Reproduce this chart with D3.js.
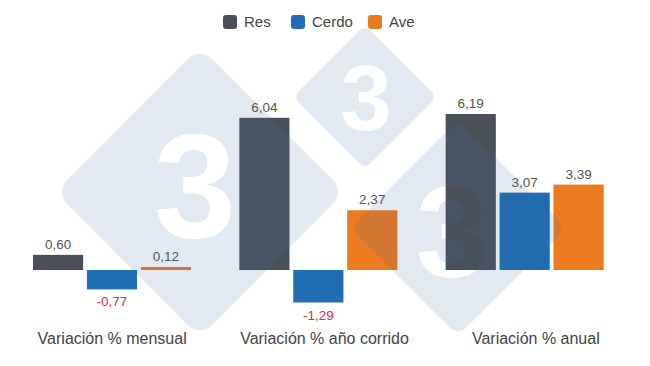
<!DOCTYPE html>
<html>
<head>
<meta charset="utf-8">
<script src="https://cdn.jsdelivr.net/npm/d3@7"></script>
<style>
  body { margin: 0; background: #fff; }
  text { font-family: "Liberation Sans", Arial, sans-serif; }
</style>
</head>
<body>
<div id="chart"></div>
<script>
// chart data
var categories = ["Variación % mensual", "Variación % año corrido", "Variación % anual"];
var seriesNames = ["Res", "Cerdo", "Ave"];
var resValues = [0.60, 6.04, 6.19];
var cerdoValues = [-0.77, -1.29, 3.07];
var aveValues = [0.12, 2.37, 3.39];
var colors = ["#4a5059", "#1f6db3", "#ec7a1f"];

var svgWidth = 650;
var svgHeight = 366;

var svg = d3.select("#chart")
    .append("svg")
    .attr("width", svgWidth)
    .attr("height", svgHeight);

// build rows from the arrays
var seriesValues = [resValues, cerdoValues, aveValues];
var rows = [];
categories.forEach(function(cat, i) {
    seriesNames.forEach(function(s, j) {
        rows.push({ cat: cat, series: s, value: seriesValues[j][i], color: colors[j] });
    });
});

// scales
var x0 = d3.scaleBand()
    .domain(categories)
    .range([9, 628]);

var x1 = d3.scaleBand()
    .domain(seriesNames)
    .range([24, 182])
    .paddingInner(0.07);

var y = d3.scaleLinear()
    .domain([-1.5, 6.5])
    .range([307.8, 106.2]);

var fmt = function(v) { return d3.format(".2f")(v).replace(".", ",").replace("−", "-"); };

// bars
var barGroup = svg.append("g");
barGroup.selectAll("rect")
    .data(rows)
    .enter()
    .append("rect")
    .attr("x", d => x0(d.cat) + x1(d.series))
    .attr("y", d => y(Math.max(0, d.value)))
    .attr("width", x1.bandwidth())
    .attr("height", d => Math.abs(y(d.value) - y(0)))
    .attr("fill", d => d.color);

// value labels
svg.append("g").selectAll("text")
    .data(rows)
    .enter()
    .append("text")
    .attr("x", d => x0(d.cat) + x1(d.series) + x1.bandwidth() / 2)
    .attr("y", d => d.value >= 0 ? y(d.value) - 6 : y(d.value) + 17)
    .attr("text-anchor", "middle")
    .attr("font-size", 13.5)
    .attr("fill", d => d.value >= 0 ? "#555" : "#e0303f")
    .text(d => fmt(d.value));

// watermark (diamonds with a "3" cut out)
var marks = [
    { cx: 200, cy: 192, r: 145, fs: 148, tx: 195, ty: 184 },
    { cx: 365, cy: 97, r: 72, fs: 92, tx: 366, ty: 97 },
    { cx: 458, cy: 228, r: 108, fs: 130, tx: 452, ty: 230 }
];
var defs = svg.append("defs");
marks.forEach(function(m, i) {
    var mask = defs.append("mask")
        .attr("id", "wm" + i)
        .attr("maskUnits", "userSpaceOnUse")
        .attr("x", 0).attr("y", 0)
        .attr("width", svgWidth).attr("height", svgHeight);
    mask.append("rect").attr("width", svgWidth).attr("height", svgHeight).attr("fill", "#fff");
    mask.append("text")
        .attr("x", m.tx)
        .attr("y", m.ty + m.fs * 0.36)
        .attr("text-anchor", "middle")
        .attr("font-size", m.fs)
        .attr("font-weight", "bold")
        .attr("fill", "#000")
        .text("3");
    var side = m.r * Math.SQRT2;
    svg.append("g")
        .attr("mask", "url(#wm" + i + ")")
        .append("rect")
        .attr("x", m.cx - side / 2)
        .attr("y", m.cy - side / 2)
        .attr("width", side)
        .attr("height", side)
        .attr("rx", side * 0.08)
        .attr("transform", `rotate(45, ${m.cx}, ${m.cy})`)
        .attr("fill", "#3a6aa0")
        .attr("fill-opacity", 0.15);
});

// category labels (small per-label shift to line up with the original)
var labelShift = [0, 6, 11];
svg.append("g").selectAll("text")
    .data(categories)
    .enter()
    .append("text")
    .attr("x", (d, i) => x0(d) + x0.bandwidth() / 2 + labelShift[i])
    .attr("y", 344)
    .attr("text-anchor", "middle")
    .attr("font-size", 16)
    .attr("fill", "#444")
    .text(d => d);

// legend
var legendX = [223, 291, 368];
var legend = svg.append("g").selectAll("g")
    .data(seriesNames)
    .enter()
    .append("g")
    .attr("transform", (d, i) => `translate(${legendX[i]}, 15)`);

legend.append("rect")
    .attr("width", 14)
    .attr("height", 14)
    .attr("rx", 3)
    .attr("fill", (d, i) => colors[i]);

legend.append("text")
    .attr("x", 21)
    .attr("y", 12)
    .attr("font-size", 15)
    .attr("fill", "#444")
    .text(d => d);
</script>
</body>
</html>
